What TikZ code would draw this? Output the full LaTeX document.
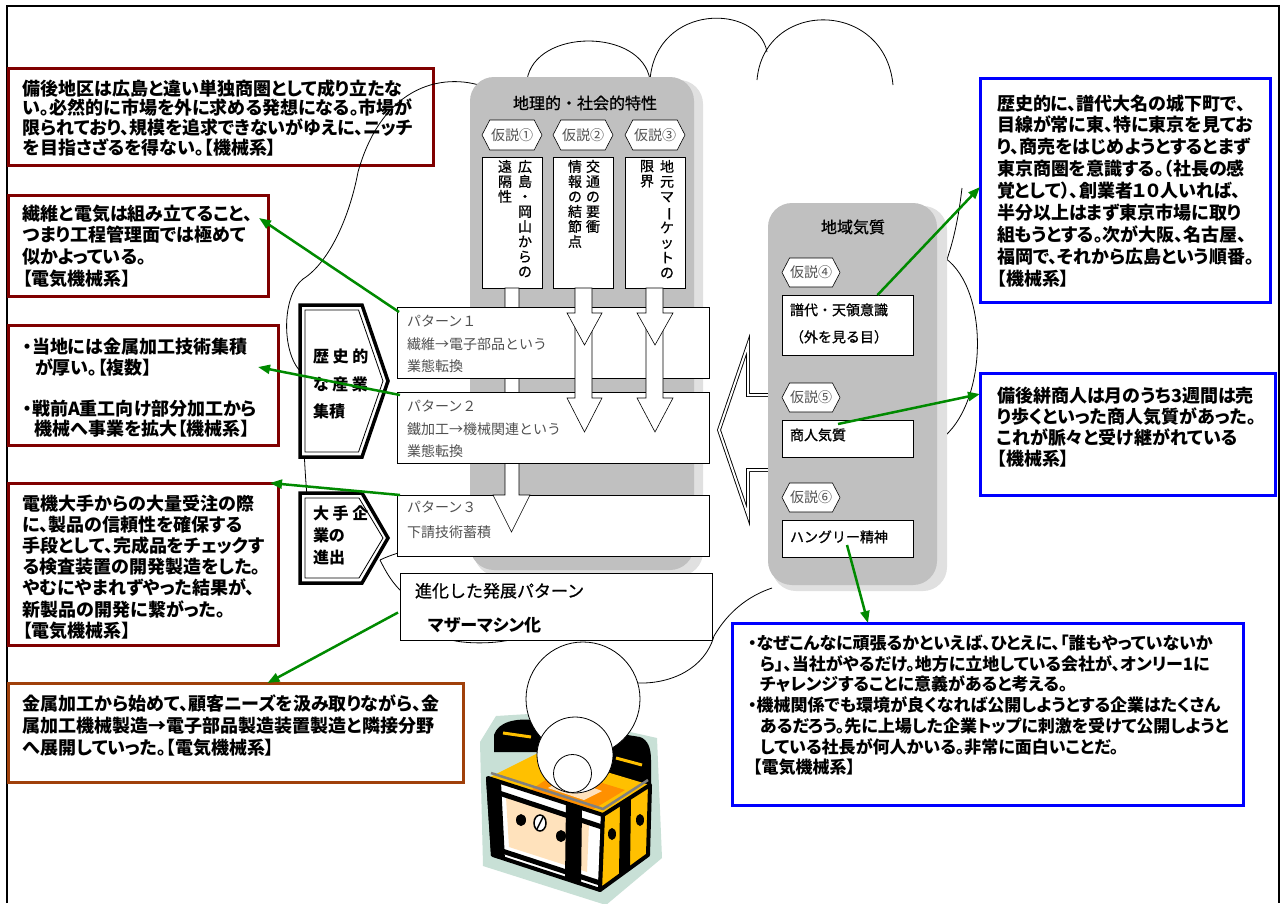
\documentclass[tikz,border=0pt]{standalone}
\usepackage{fontspec}
\usepackage{graphicx}
\setmainfont{Noto Sans CJK JP}[RawFeature=+palt]
\newfontfamily\jpmono{Noto Sans CJK JP}
\newfontfamily\jpmed{Noto Sans CJK JP}[FakeBold=0.8]
\usetikzlibrary{arrows.meta,calc,shapes.symbols}

\definecolor{boxred}{HTML}{800000}
\definecolor{boxbrown}{HTML}{A0400A}
\definecolor{boxblue}{HTML}{0000FF}
\definecolor{linkgreen}{HTML}{008A00}
\definecolor{panelgray}{HTML}{C0C0C0}
\definecolor{panelshade}{HTML}{E0E0E0}
\definecolor{labelgray}{HTML}{505050}
\definecolor{chestmint}{HTML}{C8E0D6}
\definecolor{chestgold}{HTML}{FFC000}
\definecolor{chestorange}{HTML}{FF9000}
\definecolor{chestpeach}{HTML}{FFE2BC}

\newcommand{\vbar}{\rotatebox[origin=c]{-90}{ー}}

\begin{document}
\begin{tikzpicture}[x=1pt,y=-1pt,
  every node/.style={inner sep=0pt, outer sep=0pt},
  redbox/.style={draw=boxred, line width=3pt, fill=white, anchor=north west},
  brownbox/.style={draw=boxbrown, line width=3pt, fill=white, anchor=north west},
  bluebox/.style={draw=boxblue, line width=3pt, fill=white, anchor=north west},
  note/.style={anchor=north west, align=left, font=\fontsize{18}{21}\selectfont\bfseries},
  plainbox/.style={draw=black, line width=0.8pt, fill=white, anchor=north west},
  pattxt/.style={anchor=north west, align=left, text=labelgray},
  vtext/.style={anchor=north, align=center, font=\jpmed\fontsize{14}{15}\selectfont},
  tag/.style={signal, signal to=west and east, signal pointer angle=125, draw=black,
    fill=white, line width=0.6pt, minimum width=60, minimum height=30, text=labelgray,
    font=\jpmono\fontsize{14}{14}\selectfont},
  label/.style={anchor=north west, align=left, font=\jpmed\fontsize{14}{27}\selectfont},
  chevtxt/.style={anchor=north west, align=left, font=\fontsize{16}{16}\selectfont\bfseries},
  blockarrow/.style={fill=white, draw=black, line width=0.6pt},
  cloudline/.style={draw=black, line width=0.8pt},
  link/.style={draw=linkgreen, line width=2.5pt, -{Triangle[length=12pt,width=9pt]}}
]
\useasboundingbox (0,0) rectangle (1283,903);
\fill[white] (0,0) rectangle (1283,903);

% page frame (open at the bottom)
\draw[line width=2pt] (7,903) -- (7,6) -- (1279,6) -- (1279,903);

% ---------- commentary boxes, left side
\node[redbox, minimum width=425, minimum height=97] (bl1) at (8,68) {};
\node[note, font=\fontsize{18}{19.7}\selectfont\bfseries] (bl1t) at (23,79.5)
 {備後地区は広島と違い単独商圏として成り立たな\\い。必然的に市場を外に求める発想になる。市場が\\限られており、規模を追求できないがゆえに、ニッチ\\を目指さざるを得ない。【機械系】};

\node[redbox, minimum width=260, minimum height=101] (bl2) at (8,195) {};
\node[note, font=\fontsize{18}{21.7}\selectfont\bfseries] (bl2t) at (23,204.5)
 {繊維と電気は組み立てること、\\つまり工程管理面では極めて\\似かよっている。\\【電気機械系】};

\node[redbox, minimum width=270, minimum height=120] (bl3) at (8,325) {};
\node[note, font=\fontsize{18}{20.5}\selectfont\bfseries] (bl3t) at (23,338.5)
 {・当地には金属加工技術集積\\\hspace*{12pt}が厚い。【複数】\\[20.5pt]・戦前A重工向け部分加工から\\\hspace*{12pt}機械へ事業を拡大【機械系】};

\node[redbox, minimum width=270, minimum height=162] (bl4) at (8,483) {};
\node[note, font=\fontsize{18}{21.2}\selectfont\bfseries] (bl4t) at (23,494.5)
 {電機大手からの大量受注の際\\に、製品の信頼性を確保する\\手段として、完成品をチェックす\\る検査装置の開発製造をした。\\やむにやまれずやった結果が、\\新製品の開発に繋がった。\\【電気機械系】};

\node[brownbox, minimum width=455, minimum height=99] (bl5) at (8,683) {};
\node[note, font=\fontsize{18}{22}\selectfont\bfseries] (bl5t) at (23,694.5)
 {金属加工から始めて、顧客ニーズを汲み取りながら、金\\属加工機械製造→電子部品製造装置製造と隣接分野\\へ展開していった。【電気機械系】};

% ---------- cloud outline (outer puffs and creases)
\draw[cloudline] (492,90) .. controls (455,72) and (385,76) .. (358,172)
                 .. controls (350,215) and (330,262) .. (303,279);
\draw[cloudline] (303,279) .. controls (282,295) and (281,352) .. (301,372)
                 .. controls (303,420) and (304,470) .. (308,505);
\draw[cloudline] (380,560) .. controls (386,557) and (392,555) .. (398,553);
\draw[cloudline] (380,560) .. controls (386,572) and (392,583) .. (404,594);
\draw[cloudline] (440,636) .. controls (455,645) and (500,645) .. (520,637);
\draw[cloudline] (714,636) .. controls (705,668) and (672,684) .. (638,683);
\draw[cloudline] (714,636) .. controls (728,612) and (748,596) .. (772,588);
\draw[cloudline] (940,440) .. controls (988,405) and (990,290) .. (945,258);
\draw[cloudline] (962,188) .. controls (958,222) and (952,250) .. (940,277);
\draw[cloudline] (527,80) .. controls (535,28) and (642,28) .. (650,80);
\draw[cloudline] (650,80) .. controls (656,3) and (758,3) .. (767,52);
\draw[cloudline] (757,80) .. controls (764,-1) and (885,-1) .. (893,85);

% ---------- panel: geographic / social characteristics
\node[fill=panelshade, rounded corners=24pt, minimum width=229, minimum height=496, anchor=north west] (geoshade) at (474,80) {};
\node[fill=panelgray, rounded corners=24pt, minimum width=224, minimum height=493, anchor=north west] (geo) at (470,77) {};
\node[font=\jpmed\fontsize{16}{16}\selectfont] (geot) at (585,103) {地理的・社会的特性};

\node[tag] (h1) at (512,135) {仮説①};
\node[tag] (h2) at (583,135) {仮説②};
\node[tag] (h3) at (655,135) {仮説③};

\node[plainbox, minimum width=60, minimum height=131] (v1) at (482,157) {};
\node[plainbox, minimum width=60, minimum height=131] (v2) at (553,157) {};
\node[plainbox, minimum width=60, minimum height=131] (v3) at (625,157) {};
\node[vtext] (v1a) at (525,160) {広\\島\\・\\岡\\山\\か\\ら\\の};
\node[vtext] (v1b) at (505,160) {遠\\隔\\性};
\node[vtext] (v2a) at (593,160) {交\\通\\の\\要\\衝};
\node[vtext] (v2b) at (575,160) {情\\報\\の\\結\\節\\点};
\node[vtext] (v3a) at (667,160) {地\\元\\マ\\\vbar\\ケ\\ッ\\ト\\の};
\node[vtext] (v3b) at (647,160) {限\\界};

% patterns and the block arrows that run through them
\node[plainbox, minimum width=312, minimum height=61] (p3) at (397,495) {};
\node[pattxt, font=\jpmono\fontsize{14}{25}\selectfont] (p3t) at (407,501.4) {パターン３\\下請技術蓄積};
\filldraw[blockarrow] (505,288) -- (519,288) -- (519,495) -- (530,495) -- (511.5,532) -- (493,495) -- (505,495) -- cycle;

\node[plainbox, minimum width=312, minimum height=71] (p1) at (397,307) {};
\node[pattxt, font=\jpmono\fontsize{14}{22.5}\selectfont] (p1t) at (407,315.4) {パターン１\\繊維→電子部品という\\業態転換};
\node[plainbox, minimum width=312, minimum height=71] (p2) at (397,392) {};
\node[pattxt, font=\jpmono\fontsize{14}{22.5}\selectfont] (p2t) at (407,400.4) {パターン２\\鐵加工→機械関連という\\業態転換};

\filldraw[blockarrow] (575,320) -- (592,320) -- (592,398) -- (602,398) -- (584.5,432) -- (567,398) -- (575,398) -- cycle;
\filldraw[blockarrow] (575,288) -- (592,288) -- (592,313) -- (602,313) -- (584.5,345) -- (567,313) -- (575,313) -- cycle;
\filldraw[blockarrow] (646,320) -- (663,320) -- (663,398) -- (673,398) -- (655,432) -- (637,398) -- (646,398) -- cycle;
\filldraw[blockarrow] (646,288) -- (663,288) -- (663,313) -- (673,313) -- (655,345) -- (637,313) -- (646,313) -- cycle;

% ---------- chevrons on the left of the patterns
\draw[line width=3.5pt, line join=miter, fill=white] (300,305) -- (362,305) -- (388,381) -- (362,457) -- (300,457) -- cycle;
\draw[line width=0.8pt] (305,310) -- (358.5,310) -- (383,381) -- (358.5,452) -- (305,452) -- cycle;
\node[chevtxt, font=\fontsize{16}{27.5}\selectfont\bfseries] (c1t) at (313,349) {歴 史 的\\な 産 業\\集積};

\draw[line width=3.5pt, line join=miter, fill=white] (300,493) -- (362,493) -- (388,538) -- (362,583) -- (300,583) -- cycle;
\draw[line width=0.8pt] (305,498) -- (359,498) -- (383,538) -- (359,578) -- (305,578) -- cycle;
\node[chevtxt, font=\fontsize{16}{22}\selectfont\bfseries] (c2t) at (313,506) {大 手 企\\業の\\進出};

% ---------- hollow arrow pointing at the patterns
\filldraw[fill=white, draw=black, line width=0.9pt, double=white, double distance=2pt]
  (719,430) -- (748,345) -- (748,395) -- (771,395) -- (771,470) -- (748,470) -- (748,515) -- cycle;

% ---------- panel: regional temperament
\node[fill=panelshade, rounded corners=24pt, minimum width=175, minimum height=385, anchor=north west] (tmpshade) at (772,206) {};
\node[fill=panelgray, rounded corners=24pt, minimum width=169, minimum height=382, anchor=north west] (tmp) at (768,203) {};
\node[font=\jpmed\fontsize{16}{16}\selectfont] (tmpt) at (853,227) {地域気質};

\node[tag, minimum width=58, minimum height=29] (h4) at (811,272.5) {仮説④};
\node[plainbox, minimum width=131, minimum height=60] (fud) at (782,295) {};
\node[label] (fudt) at (790,303.4) {譜代・天領意識\\（外を見る目）};

\node[tag, minimum width=58, minimum height=29] (h5) at (811,397.5) {仮説⑤};
\node[plainbox, minimum width=131, minimum height=37] (mer) at (782,420) {};
\node[label] (mert) at (790,428.4) {商人気質};

\node[tag, minimum width=58, minimum height=29] (h6) at (811,497.5) {仮説⑥};
\node[plainbox, minimum width=131, minimum height=37] (hun) at (782,520) {};
\node[label] (hunt) at (790,530.4) {ハングリー精神};

% ---------- evolved pattern
\node[plainbox, minimum width=312, minimum height=67] (evo) at (400,573) {};
\node[anchor=north west, font=\jpmed\fontsize{17}{17}\selectfont] (evot) at (415,583) {進化した発展パターン};
\node[anchor=north west, font=\fontsize{17}{17}\selectfont\bfseries] (evob) at (428,617) {マザーマシン化};

% ---------- treasure chest
\fill[chestmint] (480,742) -- (496,716) -- (545,713) -- (657,738) -- (662,858) -- (606,905) -- (483,866) -- cycle;
\fill[black] (494,752) -- (494,735) .. controls (498,722) and (515,718) .. (535,720) -- (640,737)
  .. controls (648,740) and (651,748) .. (651,760) -- (651,786) -- (540,752) -- cycle;
\draw[chestgold, line width=3pt] (503,733) -- (531,737);
\draw[chestgold, line width=3pt] (616,758) -- (642,765);
\fill[chestgold] (488,778) -- (540,752) -- (650,785) -- (603,815) -- cycle;
\fill[chestorange] (528,792) -- (560,770) -- (625,790) -- (592,810) -- cycle;
\fill[chestpeach] (548,788) -- (566,778) -- (602,791) -- (584,800) -- cycle;
\fill[white] (488,778) -- (603,815) -- (600,890) -- (493,855) -- cycle;
\fill[chestpeach] (506,797) -- (589,824) -- (587,872) -- (509,847) -- cycle;
\fill[black] (486,777) -- (501,782) -- (505,860) -- (491,856) -- cycle;
\fill[black] (566,803) -- (582,808) -- (581,885) -- (565,880) -- cycle;
\draw[black, line width=5pt] (490,790) -- (602,827);
\draw[black, line width=5pt] (493,848) -- (600,883);
\draw[black, line width=4pt, line join=round] (488,778) -- (603,815) -- (600,890) -- (493,855) -- cycle;
\fill[chestgold] (603,815) -- (650,785) -- (648,855) -- (600,890) -- cycle;
\fill[black] (620,805) -- (631,798) -- (630,868) -- (619,876) -- cycle;
\draw[black, line width=4pt, line join=round] (603,815) -- (650,785) -- (648,855) -- (600,890) -- cycle;
\draw[gray, line width=2.5pt] (491,773) -- (603,809) -- (648,780);
\fill[black] (521,820) ellipse (5 and 6);
\fill[black] (561,836) ellipse (5 and 6);
\fill[black] (612,834) ellipse (4 and 6);
\fill[black] (640,820) ellipse (4 and 6);
\draw[black, line width=1.5pt, fill=white] (540,823) ellipse (6 and 8);
\draw[black, line width=1.5pt] (537,829) -- (543,817);

% ---------- thought bubbles rising from the chest
\node[circle, draw=black, line width=0.8pt, fill=white, minimum size=114] (bub1) at (583,699) {};
\node[circle, draw=black, line width=0.8pt, fill=white, minimum size=76] (bub2) at (575,755) {};
\node[circle, draw=black, line width=0.8pt, fill=white, minimum size=38] (bub3) at (572.5,773.5) {};

% ---------- commentary boxes, right side
\node[bluebox, minimum width=290, minimum height=224] (br1) at (980,78) {};
\node[note, font=\fontsize{18}{21.9}\selectfont\bfseries] (br1t) at (997,94.5)
 {歴史的に、譜代大名の城下町で、\\目線が常に東、特に東京を見てお\\り、商売をはじめようとするとまず\\東京商圏を意識する。（社長の感\\覚として）、創業者１０人いれば、\\半分以上はまず東京市場に取り\\組もうとする。次が大阪、名古屋、\\福岡で、それから広島という順番。\\【機械系】};

\node[bluebox, minimum width=295, minimum height=122] (br2) at (980,373) {};
\node[note, font=\fontsize{18}{21}\selectfont\bfseries] (br2t) at (997,386.5)
 {備後絣商人は月のうち3週間は売\\り歩くといった商人気質があった。\\これが脈々と受け継がれている\\【機械系】};

\node[bluebox, minimum width=511, minimum height=182] (br3) at (732,623) {};
\node[note, font=\fontsize{17}{20.7}\selectfont\bfseries] (br3t) at (748,635)
 {・なぜこんなに頑張るかといえば、ひとえに、「誰もやっていないか\\\hspace*{12pt}ら」、当社がやるだけ。地方に立地している会社が、オンリー1に\\\hspace*{12pt}チャレンジすることに意義があると考える。\\・機械関係でも環境が良くなれば公開しようとする企業はたくさん\\\hspace*{12pt}あるだろう。先に上場した企業トップに刺激を受けて公開しようと\\\hspace*{12pt}している社長が何人かいる。非常に面白いことだ。\\\hspace*{5pt}【電気機械系】};

% ---------- green links from the diagram to the comments
\draw[link] ($(p1.north west)+(2,5)$) -- ($(bl2.north east)+(-9,23)$);
\draw[link] ($(p2.north west)+(3,3)$) -- ($(bl3.north east)+(-20,42)$);
\draw[link] ($(p3.north west)+(3,0)$) -- ($(bl4.north east)+(-8,0)$);
\draw[link] ($(evo.west)+(-2,6)$) -- ($(bl5.north)+(32,0)$);
\draw[link] ($(fud.north)+(30,0)$) -- ($(br1.west)+(0,-3)$);
\draw[link] ($(mer.north west)+(56,4)$) -- ($(br2.west)+(0,-40)$);
\draw[link] ($(hun.north west)+(65,25)$) -- ($(br3.north west)+(136,0)$);
\end{tikzpicture}
\end{document}
